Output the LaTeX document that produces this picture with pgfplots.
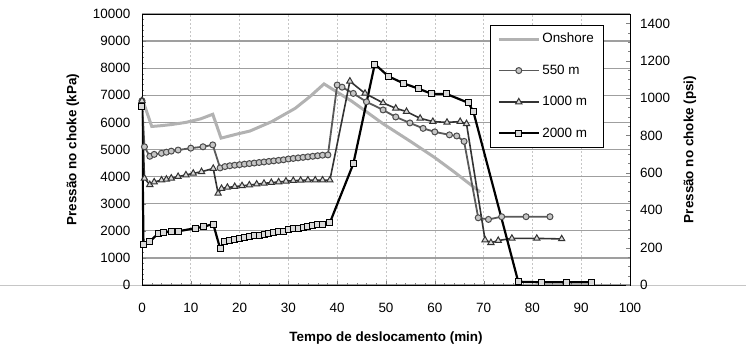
\documentclass[border=0pt]{standalone}
\usepackage{fontspec}
\setmainfont{Liberation Sans}
\usepackage{pgfplots}
\pgfplotsset{compat=1.18}
\newcommand{\fs}{\fontsize{13.5}{16}\selectfont}
\begin{document}
\fs
\begin{tikzpicture}
\draw[gray!45, line width=0.9bp] (-142bp,0) -- (604bp,0);
\begin{axis}[
  scale only axis, width=488bp, height=271bp,
  at={(0,0)}, anchor=south west,
  xmin=0, xmax=100, ymin=0, ymax=10000,
  xtick={0,10,...,100}, ytick={0,1000,...,10000},
  minor x tick num=4, minor y tick num=4,
  xtick pos=bottom, ytick pos=left, tick align=inside,
  major tick length=4bp, minor tick length=2.5bp,
  scaled y ticks=false, scaled x ticks=false,
  /pgf/number format/assume math mode=true,
  /pgf/number format/1000 sep={},
  tick label style={font=\fs},
  yticklabel style={xshift=-7bp},
  xticklabel style={yshift=-13.5bp},
  xmajorgrids, ymajorgrids,
  major x grid style={gray!45, dash pattern=on 2bp off 2bp, line width=0.6bp},
  major y grid style={gray!75, line width=1.2bp},
  axis line style={black, line width=0.8bp},
  every axis x label/.style={at={(rel axis cs:0.5,0)}, yshift=-53bp, anchor=center, font=\fs\bfseries},
  every axis y label/.style={at={(rel axis cs:0,0.5)}, xshift=-69bp, rotate=90, anchor=center, font=\fs\bfseries},
  xlabel={Tempo de deslocamento (min)},
  ylabel={Pressão no choke (kPa)},
  legend style={at={(rel axis cs:0.945,0.96)}, anchor=north east, draw=black, line width=0.6bp, fill=white, font=\fs, row sep=16bp, inner xsep=7bp, inner ysep=6bp},
  legend cell align=left,
  legend image code/.code={\draw[mark repeat=2, mark phase=2] plot coordinates {(0bp,0bp) (20bp,0bp) (40bp,0bp)};},
]
\addplot[gray!60, line width=3bp, no marks] coordinates {
(0,6900) (2,5850) (4,5880) (6,5920) (9,6000) (12,6130) (14.5,6300) (16.2,5420)
(19.7,5580) (22.1,5680) (26.6,6030) (31.4,6520) (34.4,6950) (37.3,7420)
(43,6780) (49.4,5950) (55,5300) (60,4700) (64,4170) (67.5,3680) (69.3,3430)
};
\addlegendentry{Onshore}
\addplot[black!65, line width=1.8bp, mark=*, mark size=3bp, mark options={fill=gray!45, draw=black!70, line width=1bp}] coordinates {
(0,6800) (0.5,5100) (1.6,4750) (2.5,4820) (4,4860) (5,4900) (6,4940) (7.4,4980) (10,5050) (12.5,5100) (14.5,5170)
(16,4320) (17,4370) (18,4400) (19,4420) (20,4440) (21,4460) (22,4480) (23,4500) (24,4520) (25,4540) (26,4560)
(27,4580) (28,4600) (29,4620) (30,4650) (31,4670) (32,4690) (33,4710) (34,4730) (35,4750) (36,4770) (37,4790) (38.1,4800)
(40,7380) (41,7300) (43.3,7070) (46,6760) (49.4,6460) (52,6200) (54.9,5980) (57.6,5780) (60,5650) (63,5540) (64.5,5500) (66,5300)
(68.9,2480) (71,2420) (73.7,2520) (78.7,2520) (83.6,2520)
};
\addlegendentry{550 m}
\addplot[black!80, line width=1.6bp, mark=triangle*, mark size=3.6bp, mark options={fill=gray!30, draw=black!80, line width=1bp}] coordinates {
(0,6800) (0.5,3940) (1.6,3700) (2.5,3800) (4,3870) (5,3900) (6,3940) (7.4,4000) (9,4060) (10.5,4120) (12.2,4180) (14.6,4300)
(15.6,3380) (16.3,3560) (17.5,3600) (19,3630) (20.5,3660) (22,3690) (23.5,3720) (25,3750) (26.5,3780) (28,3800) (29.5,3830)
(31,3850) (32.5,3860) (34,3870) (35.5,3870) (37,3870) (38.5,3870)
(42.6,7520) (45.7,7070) (49.4,6720) (52,6520) (54.2,6400) (57,6150) (59.6,6030) (62.5,6000) (65.2,6030) (66.5,5950)
(70.3,1660) (71.5,1560) (73,1640) (75.8,1720) (80.9,1720) (86,1700)
};
\addlegendentry{1000 m}
\addplot[black, line width=2.2bp, mark=square*, mark size=3bp, mark options={fill=gray!30, draw=black, line width=1bp}] coordinates {
(0,6600) (0.3,1480) (1.6,1600) (3.3,1900) (4.5,1950) (6,1960) (7.4,1980) (11,2100) (12.6,2150) (14.6,2250)
(16,1350) (17,1600) (18,1650) (19,1690) (20,1720) (21,1750) (22,1780) (23,1810) (24,1840) (25,1870) (26,1900)
(27,1930) (28,1960) (29,1990) (30,2030) (31,2070) (32,2100) (33,2130) (34,2160) (35,2190) (36,2220) (37,2250) (38.5,2300)
(43.3,4470) (47.7,8150) (50.5,7700) (53.6,7440) (56.6,7250) (59.4,7050) (62.4,7050) (66.9,6720) (67.9,6400)
(77.1,120) (81.9,100) (87,100) (92.1,100)
};
\addlegendentry{2000 m}
\end{axis}
\begin{axis}[
  scale only axis, width=488bp, height=271bp,
  at={(0,0)}, anchor=south west,
  xmin=0, xmax=100, ymin=0, ymax=1450.38,
  hide x axis, axis y line*=right,
  ytick={0,200,...,1400}, minor y tick num=3,
  tick align=inside, major tick length=4bp, minor tick length=2.5bp,
  scaled y ticks=false,
  /pgf/number format/assume math mode=true,
  /pgf/number format/1000 sep={},
  tick label style={font=\fs},
  yticklabel style={xshift=5.5bp},
  axis line style={black, line width=0.8bp},
  every axis y label/.style={at={(rel axis cs:1,0.5)}, xshift=60bp, rotate=90, anchor=center, font=\fs\bfseries},
  ylabel={Pressão no choke (psi)},
]
\addplot[draw=none, forget plot] coordinates {(0,0)};
\end{axis}
\pgfresetboundingbox
\useasboundingbox (-142bp,-60bp) rectangle (604bp,285bp);
\end{tikzpicture}
\end{document}
